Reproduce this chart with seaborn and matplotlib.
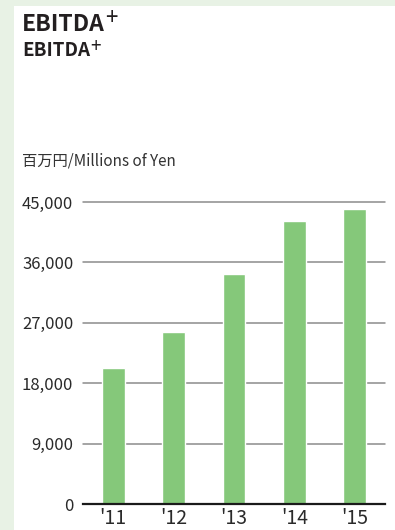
import matplotlib
matplotlib.use("Agg")
import matplotlib.pyplot as plt
from matplotlib.patches import Rectangle
from matplotlib.ticker import FuncFormatter
import seaborn as sns
import pandas as pd

# EBITDA by fiscal year (millions of yen)
years = ["'11", "'12", "'13", "'14", "'15"]
ebitda = [20300, 25700, 34300, 42100, 44000]
y_ticks = [0, 9000, 18000, 27000, 36000, 45000]

title_main = "EBITDA"
title_sub = "EBITDA"
unit_label = "百万円/Millions of Yen"

sns.set_style("white")
plt.rcParams["font.family"] = ["Noto Sans CJK JP", "DejaVu Sans"]

W, H = 395, 530
fig = plt.figure(figsize=(W / 100, H / 100), dpi=100)
fig.patch.set_facecolor("#e8f2e5")
# white card on the pale green page
card = Rectangle((14 / W, 0), 1, 1 - 6 / H, transform=fig.transFigure,
                 facecolor="white", edgecolor="none", zorder=-10)
fig.patches.append(card)

ax = fig.add_axes([83 / W, (H - 504.3) / H, (385 - 83) / W, (504.3 - 202) / H])
df = pd.DataFrame({"year": years, "ebitda": ebitda})
sns.barplot(data=df, x="year", y="ebitda", color="#85c87a", saturation=1,
            width=0.38, ax=ax, zorder=3)

ax.set_xlim(-0.5, 4.5)
ax.set_ylim(0, 45000)
ax.set_yticks(y_ticks)
ax.yaxis.set_major_formatter(FuncFormatter(lambda v, p: f"{int(v):,}"))
ax.yaxis.grid(True, color="#8c8c8c", linewidth=1.1, zorder=1)
ax.set_axisbelow(True)
for g in ax.get_ygridlines():
    g.set_clip_on(False)
ax.set_xlabel("")
ax.set_ylabel("")
ax.tick_params(axis="y", length=0, pad=7, labelsize=12, labelcolor="#2a2a2a")
ax.tick_params(axis="x", length=0, pad=3, labelsize=14, labelcolor="#2a2a2a")
for s in ["top", "right", "left"]:
    ax.spines[s].set_visible(False)
ax.spines["bottom"].set_color("#1a1a1a")
ax.spines["bottom"].set_linewidth(1.6)
ax.spines["bottom"].set_zorder(5)
ax.patch.set_alpha(0)

# titles
t1 = fig.text(22 / W, 1 - 31 / H, title_main, fontsize=16.5, fontweight="bold",
              color="#231f20", va="baseline", ha="left")
t2 = fig.text(22 / W, 1 - 56.5 / H, title_sub, fontsize=13.5, fontweight="bold",
              color="#231f20", va="baseline", ha="left")
fig.canvas.draw()
r = fig.canvas.get_renderer()
for t, fs, rise in [(t1, 16, 6), (t2, 13.5, 4)]:
    bb = t.get_window_extent(renderer=r)
    fig.text(bb.x1 / W + 0.5 / W, t.get_position()[1] + rise / H, "+", fontsize=fs,
             color="#231f20", va="baseline", ha="left")

fig.text(22 / W, 1 - 166 / H, unit_label, fontsize=11, color="#333333",
         va="baseline", ha="left")

fig.savefig("out.png", dpi=100, facecolor=fig.get_facecolor())
